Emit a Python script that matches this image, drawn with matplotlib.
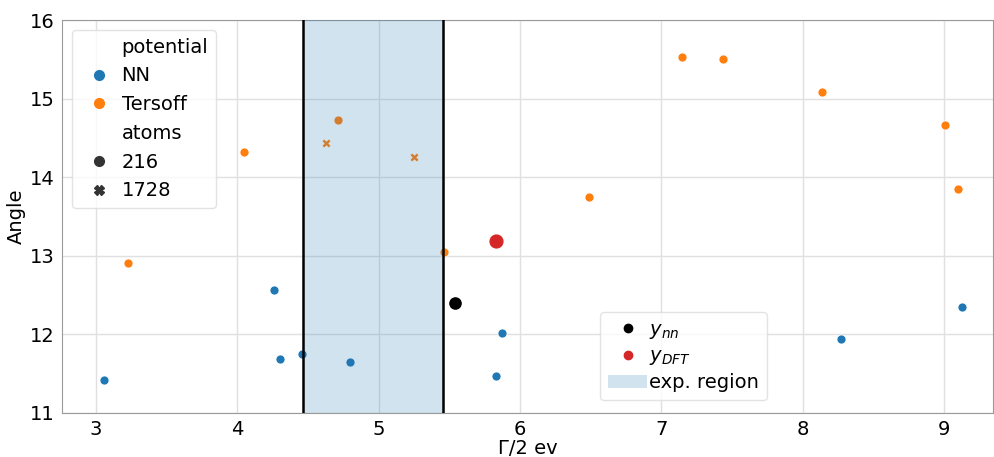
import matplotlib
matplotlib.use('Agg')
import matplotlib.pyplot as plt
from matplotlib.lines import Line2D
from matplotlib.patches import Patch

# NN potential, 216 atoms
nn_x = [3.06, 4.26, 4.30, 4.46, 4.80, 5.83, 5.87, 8.27, 9.13]
nn_y = [11.42, 12.57, 11.69, 11.75, 11.65, 11.47, 12.02, 11.94, 12.35]

# Tersoff potential, 216 atoms
ters_x = [3.23, 4.05, 4.71, 5.46, 6.49, 7.15, 7.44, 8.14, 9.01, 9.10]
ters_y = [12.91, 14.32, 14.73, 13.05, 13.75, 15.53, 15.50, 15.08, 14.66, 13.85]

# Tersoff potential, 1728 atoms
ters_big_x = [4.63, 5.25]
ters_big_y = [14.43, 14.26]

# reference points
ynn = (5.54, 12.40)
ydft = (5.83, 13.19)

# experimental region
exp_lo, exp_hi = 4.465, 5.455

blue = '#1f77b4'
orange = '#ff7f0e'

plt.rcParams['font.size'] = 14

fig = plt.figure(figsize=(9.94, 4.57), dpi=100)
ax = fig.add_axes([0.0624, 0.0963, 0.937, 0.8597])

ax.grid(True, color='#e0e0e0', linewidth=1)
ax.set_axisbelow(True)
for side in ['left', 'bottom', 'top', 'right']:
    ax.spines[side].set_color('#9a9a9a')

ax.scatter(nn_x, nn_y, s=42, color=blue, edgecolors='white', linewidths=0.5, zorder=2)
ax.scatter(ters_x, ters_y, s=42, color=orange, edgecolors='white', linewidths=0.5, zorder=2)
ax.scatter(ters_big_x, ters_big_y, s=42, color=orange, marker='X', edgecolors='white', linewidths=0.5, zorder=2)
ax.scatter([ynn[0]], [ynn[1]], s=65, color='black', zorder=2)
ax.scatter([ydft[0]], [ydft[1]], s=85, color='#d62728', zorder=2)

ax.axvspan(exp_lo, exp_hi, color=blue, alpha=0.2, linewidth=0, zorder=3)
ax.axvline(exp_lo, color='black', linewidth=1.8, zorder=4)
ax.axvline(exp_hi, color='black', linewidth=1.8, zorder=4)

ax.set_xlim(2.76, 9.35)
ax.set_ylim(11, 16)
ax.set_xticks([3, 4, 5, 6, 7, 8, 9])
ax.set_yticks([11, 12, 13, 14, 15, 16])
ax.tick_params(labelsize=14, length=0, pad=5)
ax.set_xlabel('Γ/2 ev', fontsize=14, labelpad=0)
ax.set_ylabel('Angle', fontsize=14, labelpad=3)

blank = Line2D([], [], linestyle='', marker='')
h1 = [blank,
      Line2D([], [], linestyle='', marker='o', color=blue, markersize=7),
      Line2D([], [], linestyle='', marker='o', color=orange, markersize=7),
      blank,
      Line2D([], [], linestyle='', marker='o', color='#333333', markersize=7),
      Line2D([], [], linestyle='', marker='X', color='#333333', markersize=7)]
l1 = ['potential', 'NN', 'Tersoff', 'atoms', '216', '1728']
leg1 = ax.legend(h1, l1, loc='upper left', bbox_to_anchor=(0.0107, 0.975),
                 borderaxespad=0, fontsize=14, handletextpad=0.15, handlelength=2.0,
                 borderpad=0.4, labelspacing=0.5, edgecolor='#dddddd')
ax.add_artist(leg1)

h2 = [Line2D([], [], linestyle='', marker='o', color='black', markersize=6),
      Line2D([], [], linestyle='', marker='o', color='#d62728', markersize=6),
      Patch(facecolor=blue, alpha=0.2)]
l2 = ['$y_{nn}$', '$y_{DFT}$', 'exp. region']
ax.legend(h2, l2, loc='lower left', bbox_to_anchor=(0.578, 0.033),
          borderaxespad=0, fontsize=14, handletextpad=0.1, handlelength=2.0,
          borderpad=0.4, labelspacing=0.3, edgecolor='#dddddd')

fig.savefig('out.png', dpi=100)
